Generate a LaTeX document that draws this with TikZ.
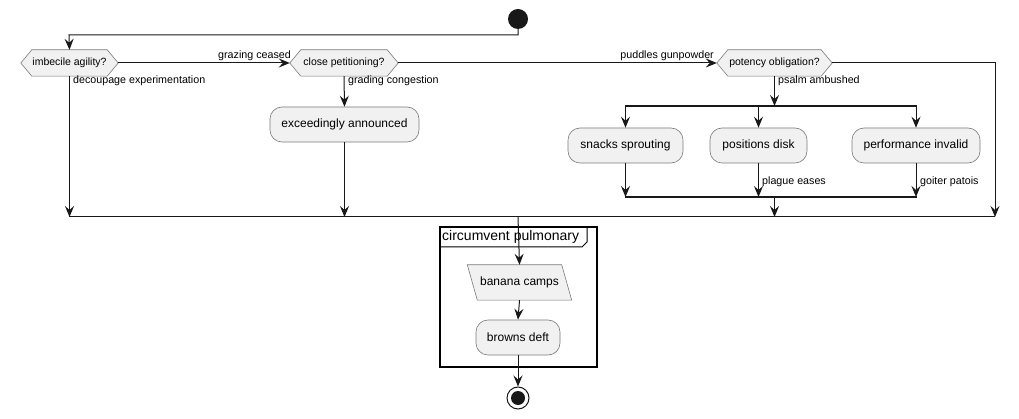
\documentclass[tikz,border=0pt]{standalone}
\usepackage{fontspec}
\setmainfont{Liberation Sans}
\usetikzlibrary{arrows.meta}
\definecolor{lineC}{HTML}{181818}
\definecolor{boxF}{HTML}{F1F1F1}
\definecolor{boxL}{HTML}{7A7A7A}
\pgfdeclarelayer{bg}
\pgfsetlayers{bg,main}
\tikzset{
  flow/.style={draw=lineC, line width=1pt, -{Stealth[length=11pt,width=9pt,inset=4pt]}},
  plain/.style={draw=lineC, line width=1pt},
  actbox/.style={draw=boxL, fill=boxF, line width=0.6pt, rounded corners=12pt, minimum height=35pt, inner xsep=0pt, font=\fontsize{12}{14}\selectfont},
  hexnode/.style={minimum height=26pt, inner sep=0pt, font=\fontsize{10.5}{12}\selectfont},
  hexsty/.style={draw=boxL, fill=boxF, line width=0.6pt},
  elabel/.style={inner sep=0pt, font=\fontsize{10.7}{12}\selectfont, text=black},
  bar/.style={draw=lineC, line width=2.5pt},
}
\newcommand\hexagonize[1]{%
  \begin{pgfonlayer}{bg}
    \path[hexsty] ([xshift=-11pt]#1.west) -- (#1.north west) -- (#1.north east) -- ([xshift=11pt]#1.east) -- (#1.south east) -- (#1.south west) -- cycle;
  \end{pgfonlayer}}
\begin{document}
\begin{tikzpicture}[x=1pt,y=-1pt]
\useasboundingbox (0,0) rectangle (1019,419);
\begin{pgfonlayer}{bg}
\fill[white] (0,0) rectangle (1019,419);
\end{pgfonlayer}

% start
\node[circle, fill=lineC, minimum size=20pt, inner sep=0pt] (start) at (518,19) {};

% decisions
\node[hexnode, minimum width=75pt] (d1) at (69.5,63) {imbecile agility?};
\hexagonize{d1}
\node[hexnode, minimum width=86pt] (d2) at (344,63) {close petitioning?};
\hexagonize{d2}
\node[hexnode, minimum width=93pt] (d3) at (774.5,63) {potency obligation?};
\hexagonize{d3}

% activities
\node[actbox, minimum width=149pt] (b1) at (344.5,124.5) {exceedingly announced};
\node[actbox, minimum width=115pt] (s1) at (625.5,145.5) {snacks sprouting};
\node[actbox, minimum width=97pt] (s2) at (758.5,145.5) {positions disk};
\node[actbox, minimum width=128pt] (s3) at (916,145.5) {performance invalid};

% fork / join bars
\coordinate (forkL) at (625,106);
\coordinate (forkR) at (917,106);
\coordinate (joinL) at (625,197);
\coordinate (joinR) at (917,197);
\draw[bar] (forkL) -- (forkR);
\draw[bar] (joinL) -- (joinR);

% merge line
\coordinate (mL) at (69,217);
\coordinate (mR) at (995,217);
\draw[plain] (mL) -- (mR);

% group
\draw[draw=black, line width=1.5pt] (440,227) rectangle (597,367);
\draw[draw=black, line width=1pt] (440,247) -- (582,247) -- (587,242) -- (587,227);
\node[anchor=west, inner sep=0pt, font=\fontsize{14}{16}\selectfont] (gt) at (442,237) {circumvent pulmonary};

% banana camps parallelogram
\node[minimum width=94pt, minimum height=35pt, inner sep=0pt, font=\fontsize{12}{14}\selectfont] (bc) at (519.5,282.5) {banana camps};
\begin{pgfonlayer}{bg}
\path[hexsty] ([xshift=-5pt]bc.north west) -- ([xshift=-5pt]bc.north east) -- ([xshift=5pt]bc.south east) -- ([xshift=5pt]bc.south west) -- cycle;
\end{pgfonlayer}
\node[actbox, minimum width=84pt] (bd) at (518,337.5) {browns deft};

% end
\node[circle, draw=lineC, line width=1pt, fill=white, minimum size=22pt, inner sep=0pt] (stop) at (518,398) {};
\node[circle, fill=lineC, minimum size=14pt, inner sep=0pt] at (stop) {};

% connectors
\draw[flow] (start.south) |- (69,35) -- (d1.north);
\draw[flow] ([xshift=11pt]d1.east) -- ([xshift=-11pt]d2.west);
\node[elabel, anchor=east] (l1) at (291,56) {grazing ceased};
\draw[flow] (d1.south) -- (d1.south |- mL);
\node[elabel, anchor=west] (l2) at (73,81) {decoupage experimentation};
\draw[flow] (d2.south) -- (b1.north);
\node[elabel, anchor=west] (l3) at (348,81) {grading congestion};
\draw[flow] (b1.south) -- (b1.south |- mL);
\draw[flow] ([xshift=11pt]d2.east) -- ([xshift=-11pt]d3.west);
\node[elabel, anchor=east] (l4) at (714,56) {puddles gunpowder};
\draw[flow] (d3.south) -- (d3.south |- forkL);
\node[elabel, anchor=west] (l5) at (778,81) {psalm ambushed};
\draw[flow] (s1.north |- forkL) -- (s1.north);
\draw[flow] (s2.north |- forkL) -- (s2.north);
\draw[flow] (s3.north |- forkL) -- (s3.north);
\draw[flow] (s1.south) -- (s1.south |- joinL);
\draw[flow] (s2.south) -- (s2.south |- joinL);
\node[elabel, anchor=west] (l6) at (762,182) {plague eases};
\draw[flow] (s3.south) -- (s3.south |- joinL);
\node[elabel, anchor=west] (l7) at (920,182) {goiter patois};
\draw[flow] (d3.south |- joinL) -- (d3.south |- mL);
\draw[flow] ([xshift=11pt]d3.east) -| (mR);
\draw[flow] (518,217) -- (bc.north);
\draw[flow] (bc.south) -- (bd.north);
\draw[flow] (bd.south) -- (stop.north);
\end{tikzpicture}
\end{document}
